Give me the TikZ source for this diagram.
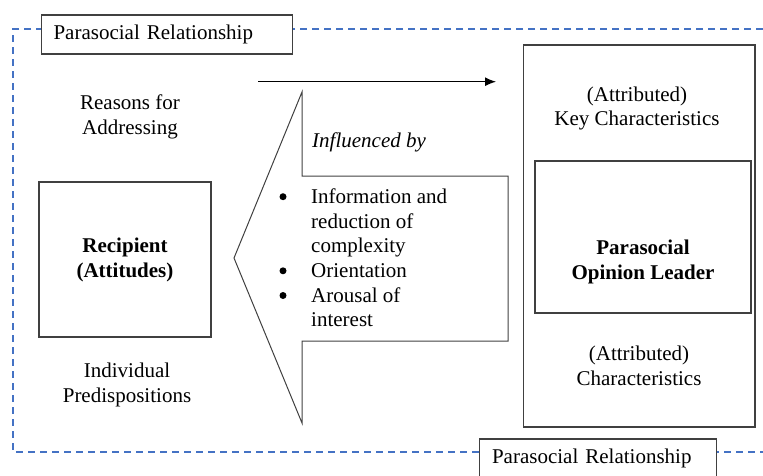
\documentclass[tikz,border=0pt]{standalone}
\usepackage{fontspec}
\setmainfont{Liberation Serif}
\usetikzlibrary{positioning,arrows.meta}
\definecolor{frameblue}{RGB}{68,114,196}

\begin{document}
\begin{tikzpicture}[x=1pt, y=-1pt] %Parasocial opinion leader
	\tikzstyle{box} = [draw=black!75, line width=1.1pt]
	\tikzstyle{txt} = [align=center, inner sep=0pt, font=\fontsize{21}{24.5}\selectfont]
	\tikzstyle{tag} = [box, fill=white, align=left, anchor=west, inner xsep=12.5pt, minimum height=39pt, font=\fontsize{21}{24.5}\selectfont]
	\tikzstyle{dot} = [circle, fill=black, inner sep=0pt, minimum size=7pt]
	\useasboundingbox (0,0) rectangle (763,475);
	% dashed frame
	\draw[frameblue, line width=1.5pt, dash pattern=on 7pt off 5pt] (775,29) -- (13,29) -- (13,452) -- (775,452);
	\node[tag, text width=226pt] (rel1) at (40.5,34.5) {Parasocial Relationship};
	\node[tag, text width=212pt] (rel2) at (479,458.5) {Parasocial Relationship};
	% recipient
	\node[box, txt, minimum width=172pt, minimum height=155pt, font=\fontsize{21}{25}\selectfont\bfseries] (rec) at (125,259.5) {Recipient\\(Attitudes)};
	\node[txt] (reasons) at (130,117) {Reasons for\\Addressing};
	\node[txt] (predisp) at (127,385) {Individual\\Predispositions};
	% opinion leader
	\node[box, minimum width=231.5pt, minimum height=382pt] (pol) at (639.25,236) {};
	\node[box, minimum width=216pt, minimum height=152pt] (lead) at (643,237) {};
	\node[txt, font=\fontsize{21}{25}\selectfont\bfseries] (leadtxt) at (643,262) {Parasocial\\Opinion Leader};
	\node[txt] (keychar) at (637,108.5) {(Attributed)\\Key Characteristics};
	\node[txt] (char) at (639,366) {(Attributed)\\Characteristics};
	% arrows
	\coordinate (a1) at (258,81.7);
	\coordinate (a2) at (496,81.7);
	\draw[line width=1.1pt, -{Latex[length=11pt, width=9pt]}] (a1) -- (a2);
	\draw[draw=black!75, line width=1pt] (302,92) -- (302,176) -- (508,176) -- (508,341) -- (302,341) -- (302,423) -- (234,258) -- cycle;
	\node[txt, anchor=west, font=\fontsize{21}{24.5}\selectfont\itshape] (infl) at (312,142) {Influenced by};
	\foreach \t [count=\i] in {Information and, reduction of, complexity, Orientation, Arousal of, interest}
	{
		\node[txt, anchor=base west] (ln\i) at (311,178.6+24.7*\i) {\t};
	}
	\foreach \i in {1,4,5}
	{
		\node[dot] (bul\i) at ([xshift=-28pt, yshift=6.6pt]ln\i.base west) {};
	}
\end{tikzpicture}
\end{document}
